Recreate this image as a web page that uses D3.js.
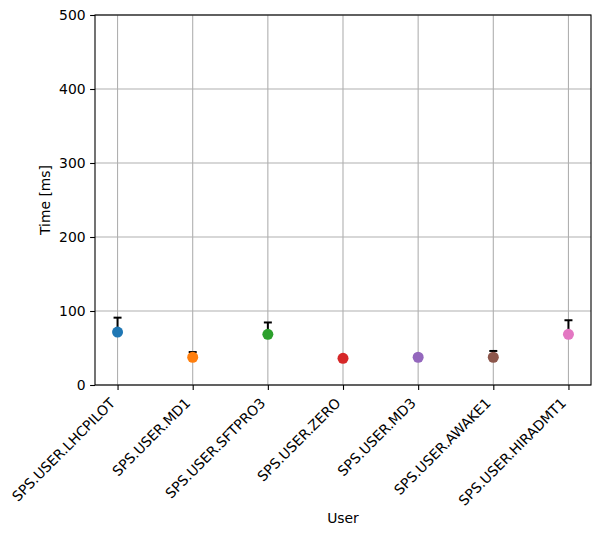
<!DOCTYPE html>
<html><head><meta charset="utf-8">
<script src="https://cdn.jsdelivr.net/npm/d3@7"></script>
<style>body{margin:0;background:#fff}svg{display:block}text{font-family:"DejaVu Sans",sans-serif}</style>
</head><body>
<svg id="c" width="601" height="536"></svg>
<script>
const users = ["SPS.USER.LHCPILOT","SPS.USER.MD1","SPS.USER.SFTPRO3","SPS.USER.ZERO","SPS.USER.MD3","SPS.USER.AWAKE1","SPS.USER.HIRADMT1"];
const times = [71.5, 37.5, 68.5, 36, 37.5, 37.5, 68.5];
const errUp = [19.5, 7, 16, 0, 0, 8.5, 19];
const colors = ["#1f77b4","#ff7f0e","#2ca02c","#d62728","#9467bd","#8c564b","#e377c2"];
const yTicks = [0,100,200,300,400,500];

const svg = d3.select("#c");
const L=95,R=591,T=15,B=385;
const x = d3.scaleLinear().domain([-0.3, users.length-1+0.3]).range([L,R]);
const y = d3.scaleLinear().domain([0,500]).range([B,T]);
const fs = "13.9px";

// grid
const g = svg.append("g");
g.selectAll(".vg").data(users).join("line")
  .attr("x1",(d,i)=>x(i)).attr("x2",(d,i)=>x(i)).attr("y1",T).attr("y2",B)
  .attr("stroke","#b0b0b0").attr("stroke-width",1.1);
g.selectAll(".hg").data(yTicks).join("line")
  .attr("x1",L).attr("x2",R).attr("y1",d=>y(d)).attr("y2",d=>y(d))
  .attr("stroke","#b0b0b0").attr("stroke-width",1.1);

// error bars
const eb = svg.append("g");
users.forEach((u,i)=>{
  if(errUp[i]<=0) return;
  eb.append("line").attr("x1",x(i)).attr("x2",x(i)).attr("y1",y(times[i])).attr("y2",y(times[i]+errUp[i]))
    .attr("stroke","#000").attr("stroke-width",2);
  eb.append("line").attr("x1",x(i)-4).attr("x2",x(i)+4).attr("y1",y(times[i]+errUp[i])).attr("y2",y(times[i]+errUp[i]))
    .attr("stroke","#000").attr("stroke-width",2);
});

// markers
svg.append("g").selectAll("circle").data(times).join("circle")
  .attr("cx",(d,i)=>x(i)).attr("cy",d=>y(d)).attr("r",5.5)
  .attr("fill",(d,i)=>colors[i]);

// frame
svg.append("rect").attr("x",L).attr("y",T).attr("width",R-L).attr("height",B-T)
  .attr("fill","none").attr("stroke","#000").attr("stroke-width",1.1);

// y axis
const ya = svg.append("g").attr("transform",`translate(${L},0)`)
  .call(d3.axisLeft(y).tickValues(yTicks).tickSize(4.9).tickPadding(4.5).tickFormat(d3.format("d")));
ya.select(".domain").remove();
ya.selectAll("line").attr("stroke","#000").attr("stroke-width",1.1);
ya.selectAll("text").attr("font-size",fs).attr("fill","#000").style("font-family","DejaVu Sans");

// x axis
const xa = svg.append("g").attr("transform",`translate(0,${B})`)
  .call(d3.axisBottom(x).tickValues(d3.range(users.length)).tickSize(4.9).tickFormat(i=>users[i]));
xa.select(".domain").remove();
xa.selectAll("line").attr("stroke","#000").attr("stroke-width",1.1);
xa.selectAll(".tick text").attr("font-size",fs).attr("fill","#000").style("font-family","DejaVu Sans")
  .attr("text-anchor","end").attr("x",0).attr("y",0).attr("dy",0)
  .attr("transform","translate(-2,19) rotate(-45)");

svg.append("text").attr("x",(L+R)/2).attr("y",523).attr("text-anchor","middle")
  .attr("font-size",fs).text("User");
svg.append("text").attr("transform",`translate(50,${(T+B)/2}) rotate(-90)`).attr("text-anchor","middle")
  .attr("font-size",fs).text("Time [ms]");
</script>
</body></html>
